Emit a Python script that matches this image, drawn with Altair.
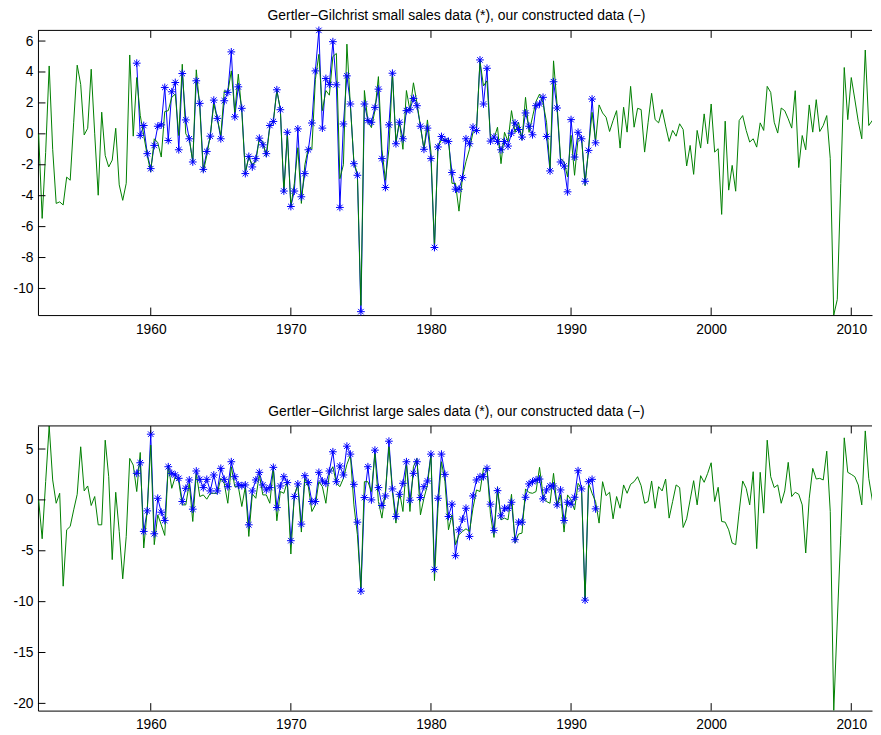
import altair as alt
import pandas as pd

# ---------------- data ----------------
small_green = [
    0.0, -5.47, -1.2, 4.39, -1.0, -4.5, -4.4, -4.6, -2.8, -3.0,
    0.75, 4.44, 3.2, -0.07, 0.36, 4.18, 0.0, -3.97, 1.4, -1.4,
    -2.14, -1.7, 0.36, -3.3, -4.3, -3.2, 5.1, -0.15, 3.64, 1.2,
    -0.1, -1.4, -2.47, -0.32, -0.57, -1.5, 1.44, 1.5, 2.36, 2.57,
    -0.11, 4.5, 0.0, -0.32, -1.82, 4.14, 1.72, -2.47, -1.4, -0.11,
    1.93, 0.97, -0.11, 2.79, 2.68, 4.07, 1.39, 3.86, 1.39, -2.47,
    -1.5, -2.0, -1.8, -0.3, -0.5, -1.5, 0.5, 0.8, 2.8, 1.6,
    -3.8, 0.0, -4.7, -3.2, -0.9, -4.5, -2.0, -0.9, -1.0, 3.5,
    5.14, 1.5, 2.8, 2.5, 5.0, 5.2, -2.9, -2.0, 5.8, 1.8,
    -1.8, -2.6, -11.1, 2.8, 0.8, 0.4, 1.5, 3.7, -1.0, -3.0,
    -1.0, 4.0, -0.5, 0.8, -1.0, 2.8, 1.5, 3.3, 2.0, 0.5,
    -1.0, 0.9, -1.2, -7.4, -0.8, -0.4, -0.4, -0.3, -3.2, -3.2,
    -5.0, -2.8, -1.8, -1.0, 0.1, 0.3, 4.7, 3.1, 3.43, -0.3,
    -0.3, 0.43, -1.93, 0.1, -0.5, 1.5, 0.1, 0.75, -0.4, 2.36,
    0.1, 1.1, 2.1, 2.57, 2.0, 0.75, -2.25, 4.72, 1.9, -1.6,
    -1.8, -2.79, -0.1, -2.68, -0.32, -0.2, -3.36, -0.96, 1.39, -0.54,
    1.87, 1.35, 1.07, 0.15, 0.86, 1.5, -0.92, 1.72, 0.11, 3.07,
    0.43, 1.65, 1.57, -1.18, 0.75, 2.62, 0.92, 0.71, 1.57, 0.5,
    -0.49, 0.22, -0.15, 0.65, 0.28, -2.08, -0.75, -2.62, 0.22, -0.92,
    1.29, -0.64, 1.93, -1.18, -0.96, -5.21, 0.82, -3.64, -2.04, -3.71,
    0.86, 1.18, 0.22, -0.53, -0.32, -0.86, 0.71, 0.22, 3.07, 2.68,
    0.75, 0.05, 1.67, 1.5, 0.97, 0.37, 2.79, -2.18, -0.11, -1.03,
    1.87, 0.11, 2.21, 0.15, 0.54, 1.18, -1.6, -11.72, -10.72, -3.2,
    4.29, 0.92, 3.64, 2.25, 0.8, -0.32, 5.42, 0.54, 0.86, -0.32,
    4.0,
]

small_blue = [
    4.57, -0.1, 0.54, -1.28, -2.25, -0.75, 0.49, 0.58, 3.0, -0.43,
    2.72, 3.32, -1.03, 3.9, 0.9, -0.32, -1.82, 3.43, 1.97, -2.3,
    -1.14, -0.15, 2.18, 1.0, -0.32, 2.14, 2.68, 5.3, 1.1, 3.04,
    1.65, -2.57, -1.46, -2.14, -1.6, -0.28, -0.71, -1.28, 0.54, 0.8,
    2.85, 1.56, -3.7, 0.1, -4.7, -3.7, 0.32, -4.07, -2.57, -1.03,
    0.7, 4.07, 6.69, 0.37, 3.58, 3.2, 5.96, 3.17, -4.76, 0.64,
    3.75, 1.93, -1.93, -2.68, -11.5, 1.93, 0.86, 0.75, 1.71, 2.89,
    -1.6, -3.47, 0.58, 3.92, -0.64, 0.75, -0.32, 1.5, 1.56, 2.29,
    1.82, 0.49, -1.0, 0.37, -1.6, -7.35, -0.85, -0.17, -0.43, -0.49,
    -2.5, -3.58, -3.58, -2.83, -0.32, -0.64, 0.43, 0.21, 4.78, 1.93,
    4.24, -0.47, -0.21, -0.49, -1.03, -0.49, -0.79, 0.04, 0.7, 0.28,
    -0.21, 1.35, 0.49, -0.06, 1.82, 1.93, 2.36, -0.17, -2.4, 3.37,
    1.67, -1.82, -2.08, -3.75, 0.92, -1.5, 0.1, -0.32, -3.07, -1.07,
    2.25, -0.58,
]

large_green = [
    0.0, -3.82, 1.8, 7.27, 1.96, -0.33, 0.65, -8.48, -2.94, -2.61,
    -0.98, 0.55, 5.22, 0.88, 1.37, -0.55, 0.33, -2.45, -2.45, 5.87,
    2.28, -5.87, 0.75, -3.1, -7.76, -3.59, 4.08, 3.42, 0.82, 4.66,
    -4.73, -1.0, 5.38, -4.4, -1.47, -2.45, -3.49, 3.42, 1.14, 2.28,
    1.79, -0.49, -0.49, 1.63, -2.12, 2.61, 0.33, 0.49, 0.07, 0.65,
    0.65, 0.65, 2.12, 1.6, -0.33, 3.26, 1.3, 1.3, -0.65, 1.3,
    -3.59, 0.6, 0.16, 2.5, 0.49, 0.49, -0.33, 3.1, -2.05, 0.82,
    0.65, 1.79, -5.32, 0.49, 1.47, -3.16, 2.12, 1.3, -1.14, -0.49,
    1.79, 1.3, -0.33, 2.61, 3.26, 1.63, 1.3, 2.12, 3.49, 4.4,
    -0.49, -3.42, -8.64, 1.79, 1.79, 0.82, 4.57, -0.16, -1.79, 0.82,
    5.22, 0.82, -2.28, 0.82, -1.14, 3.59, -1.14, 3.26, 4.08, -1.47,
    0.16, 1.47, 4.4, -7.93, -0.82, 3.75, 1.79, -2.94, -1.47, -4.4,
    -3.42, -3.1, -2.84, -3.1, -0.82, 0.98, 0.82, 3.1, 3.1, -1.47,
    -3.69, 1.3, -1.96, -1.79, -1.96, 0.55, -4.24, -3.36, -3.26, 1.08,
    0.72, 0.65, 0.82, 3.2, 0.49, -0.16, -0.33, 2.61, -0.65, 0.49,
    -3.16, 0.49, 0.0, -0.98, 1.63, 1.08, -9.78, 1.63, 0.65, -0.16,
    -2.28, 1.79, 0.42, 0.75, -1.86, 0.33, -0.82, 1.47, 0.65, 1.53,
    1.79, 2.28, 1.4, -0.33, -0.16, 1.86, -0.82, 1.3, 0.88, 2.05,
    -1.79, -0.16, 1.47, 1.21, -2.71, -1.86, 0.0, 1.89, -0.49, 2.38,
    1.73, 2.61, 3.65, -0.16, 1.24, -2.12, -2.19, -2.94, -4.24, -4.4,
    -1.14, 1.86, 1.14, -0.49, 2.77, -4.79, 2.71, -1.3, 5.87, 2.28,
    1.21, 1.47, -0.33, 0.88, 3.69, 0.33, 0.75, 0.55, -0.49, -5.22,
    0.16, 3.1, 2.05, 2.12, 1.96, 4.79, -1.14, -20.71, -12.0, -3.5,
    6.1, 2.71, 2.51, 2.28, 1.47, -0.49, 6.78, 2.12, 0.0, -2.05,
    2.84,
]

large_blue = [
    2.61, 3.65, -3.1, -1.08, 6.46, -3.33, 0.16, -1.21, -2.02, 3.26,
    2.61, 2.45, 2.12, -0.16, 1.14, 1.96, -0.91, 2.84, 2.02, 1.21,
    2.02, 0.88, 2.45, 0.88, 3.1, 2.02, 1.3, 3.75, 2.28, 1.47,
    1.4, 1.47, -2.45, 0.88, 1.96, 2.71, 1.47, 0.98, 1.21, 3.2,
    -0.75, 1.37, 2.28, 1.7, -4.01, 0.33, 1.57, -2.38, 2.38, 1.7,
    -0.16, -0.16, 2.71, 1.86, 1.63, 2.84, 4.73, 1.79, 3.33, 2.45,
    5.28, 4.5, 1.53, -2.19, -8.97, 0.23, 3.26, 0.0, 4.89, 1.21,
    -0.55, 0.39, 5.77, 1.08, -1.63, 0.55, 1.63, 3.75, -0.03, 2.61,
    3.75, 0.23, 1.3, 1.86, 4.5, -6.85, 0.16, 4.5, 2.51, -1.63,
    -0.42, -5.48, -2.94, -1.89, -0.82, -3.59, 0.39, 1.96, 2.28, 2.28,
    3.1, -0.42, -3.0, 0.91, -1.57, -0.82, -0.82, -0.23, -3.91, -2.19,
    -2.19, 0.26, 1.57, 1.79, 1.96, 2.05, 0.1, 0.98, 1.37, 1.37,
    -0.49, 0.98, -2.02, -0.23, -0.42, 0.26, 2.87, 1.08, -9.85, 1.79,
    2.02, -0.88,
]

x_ticks = [1960, 1970, 1980, 1990, 2000, 2010]
small_yticks = [-10, -8, -6, -4, -2, 0, 2, 4, 6]
large_yticks = [-20, -15, -10, -5, 0, 5]
small_title = "Gertler\u2212Gilchrist small sales data (*), our constructed data (\u2212)"
large_title = "Gertler\u2212Gilchrist large sales data (*), our constructed data (\u2212)"
small_ydomain = [-11.72, 6.69]
large_ydomain = [-20.71, 7.27]
green_start = 1952.0
blue_start = 1959.0

# ---------------- styling ----------------
W, H = 835, 285
XDOM = [1951.95, 2011.48]
FONT = "Liberation Sans"
FS = 13.8
TICK = 7.5
TITLE_X = 419
TITLE_Y = -10.4
STAR = "M0,-1L0,1M-1,0L1,0M-0.71,-0.71L0.71,0.71M-0.71,0.71L0.71,-0.71"


def panel(green, blue, yticks, ydom, title):
    g = pd.DataFrame({"t": [green_start + i / 4 for i in range(len(green))], "v": green})
    b = pd.DataFrame({"t": [blue_start + i / 4 for i in range(len(blue))], "v": blue})
    xt = pd.DataFrame({"t": x_ticks})
    yt = pd.DataFrame({"v": yticks})
    one = pd.DataFrame({"a": [0]})

    xaxis = alt.Axis(values=x_ticks, ticks=False, domain=True, domainColor="black",
                     domainWidth=1, labelPadding=7, minExtent=21, maxExtent=21,
                     grid=False, title=None, labelFont=FONT, labelFontSize=FS,
                     labelColor="black", labelExpr="'' + datum.value")
    yaxis = alt.Axis(values=yticks, ticks=False, domain=True, domainColor="black",
                     domainWidth=1, labelPadding=5, minExtent=26, maxExtent=26,
                     grid=False, title=None, labelFont=FONT, labelFontSize=FS,
                     labelColor="black", labelExpr="'' + datum.value")
    X = alt.X("t:Q", scale=alt.Scale(domain=XDOM, nice=False, zero=False), axis=xaxis)
    Y = alt.Y("v:Q", scale=alt.Scale(domain=ydom, nice=False, zero=False), axis=yaxis)

    blue_line = alt.Chart(b).mark_line(color="#0000ff", strokeWidth=1, clip=True).encode(x=X, y=Y)
    green_line = alt.Chart(g).mark_line(color="#008000", strokeWidth=1, clip=True).encode(x=X, y=Y)
    stars = alt.Chart(b).mark_point(shape=STAR, size=60, filled=False, color="#0000ff",
                                    strokeWidth=1, opacity=1).encode(x=X, y=Y)
    xt_bot = alt.Chart(xt).mark_rule(color="black", strokeWidth=1).encode(
        x=X, y=alt.value(H - TICK), y2=alt.value(H))
    xt_top = alt.Chart(xt).mark_rule(color="black", strokeWidth=1).encode(
        x=X, y=alt.value(0), y2=alt.value(TICK))
    yt_left = alt.Chart(yt).mark_rule(color="black", strokeWidth=1).encode(
        y=Y, x=alt.value(0), x2=alt.value(TICK))
    top_frame = alt.Chart(one).mark_rule(color="black", strokeWidth=1).encode(
        x=alt.value(0), x2=alt.value(W), y=alt.value(0))
    title_txt = alt.Chart(one).mark_text(
        text=title, font=FONT, fontSize=13.9, baseline="alphabetic", align="center",
        color="black").encode(x=alt.value(TITLE_X), y=alt.value(TITLE_Y))

    return alt.layer(blue_line, green_line, stars, xt_bot, xt_top, yt_left, top_frame,
                     title_txt).properties(width=W, height=H)


top = panel(small_green, small_blue, small_yticks, small_ydomain, small_title)
bottom = panel(large_green, large_blue, large_yticks, large_ydomain, large_title)

chart = alt.vconcat(top, bottom, spacing=68).properties(
    padding={"left": 4, "top": 0, "right": 0, "bottom": 0}
).configure_view(stroke=None)

chart.save("out.html", embed_options={"renderer": "svg", "actions": False})
